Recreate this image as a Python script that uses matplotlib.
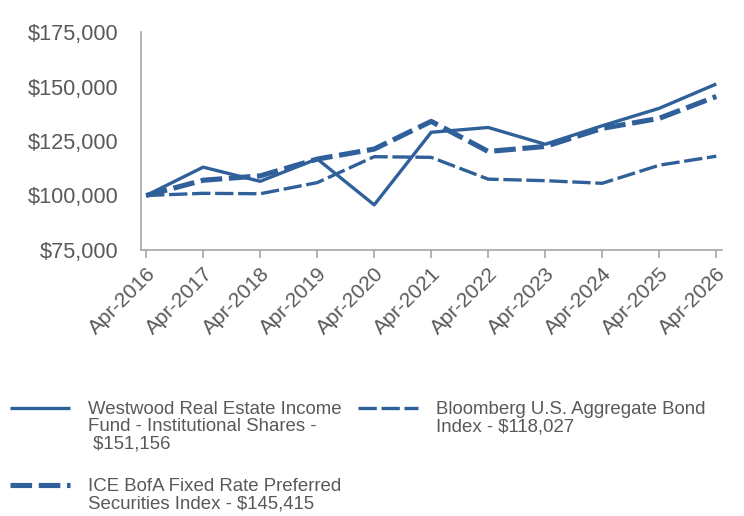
import matplotlib.pyplot as plt
from matplotlib.lines import Line2D
from matplotlib.ticker import FuncFormatter

plt.rcParams['font.family'] = ['Liberation Sans', 'DejaVu Sans']

years = ["Apr-2016", "Apr-2017", "Apr-2018", "Apr-2019", "Apr-2020", "Apr-2021",
         "Apr-2022", "Apr-2023", "Apr-2024", "Apr-2025", "Apr-2026"]
fund = [100000, 113000, 106500, 116800, 95700, 129000, 131200, 123500, 132000, 140000, 151156]
preferred = [100000, 107000, 109000, 116700, 121300, 134000, 120200, 122500, 130800, 135400, 145415]
bond = [100000, 101000, 100800, 105900, 117800, 117500, 107500, 106800, 105600, 113900, 118027]

fund_label = "Westwood Real Estate Income\nFund - Institutional Shares -\n $151,156"
bond_label = "Bloomberg U.S. Aggregate Bond\nIndex - $118,027"
pref_label = "ICE BofA Fixed Rate Preferred\nSecurities Index - $145,415"

blue = '#30609a'
grey = '#595959'
W, H = 744, 516

fund_style = dict(color=blue, lw=2.4, solid_capstyle='butt')
bond_style = dict(color=blue, lw=2.4, dashes=(5.5, 1.4), dash_capstyle='butt')
pref_style = dict(color=blue, lw=3.7, dashes=(4.2, 1.3), dash_capstyle='butt')

fig = plt.figure(figsize=(W/100, H/100), dpi=100)
ax = fig.add_axes([141/W, 1-250/H, (722-141)/W, (250-32)/H])

x = list(range(len(years)))
ax.plot(x, fund, **fund_style)
ax.plot(x, bond, **bond_style)
ax.plot(x, preferred, **pref_style)

ax.set_ylim(75000, 175000)
ax.set_yticks(range(75000, 175001, 25000))
ax.yaxis.set_major_formatter(FuncFormatter(lambda v, p: "${:,.0f}".format(v)))
ax.set_xlim(-0.09, 10.1)
ax.set_xticks(x)
ax.set_xticklabels(years, rotation=45, ha='right', rotation_mode='anchor')

for s in ['top', 'right']:
    ax.spines[s].set_visible(False)
for s in ['left', 'bottom']:
    ax.spines[s].set_color('#a6a6a6')
    ax.spines[s].set_linewidth(1.2)
ax.tick_params(axis='y', length=0, labelsize=15.7, labelcolor=grey, pad=16)
ax.tick_params(axis='x', length=6, width=1.2, color='#a6a6a6', labelsize=15, labelcolor=grey, pad=4)

# legend drawn by hand so the handle sits on the first text line
entries = [(10, 408, fund_style, fund_label),
           (10, 485, pref_style, pref_label),
           (358, 408, bond_style, bond_label)]
for hx, hy, style, label in entries:
    fig.add_artist(Line2D([hx/W, (hx+60)/W], [1-hy/H, 1-hy/H], transform=fig.transFigure, **style))
    fig.text((hx+78)/W, 1-(hy-7)/H, label, fontsize=13.4, color=grey, va='top', ha='left',
             linespacing=1.03)

plt.savefig("out.png")
